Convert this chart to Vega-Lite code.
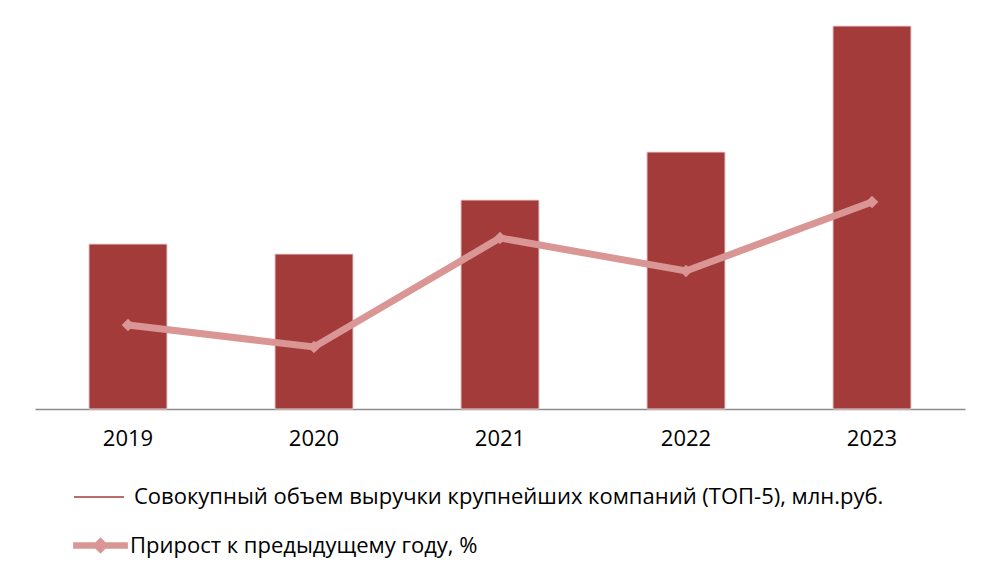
{
  "$schema": "https://vega.github.io/schema/vega-lite/v6.json",
  "width": 930,
  "height": 399,
  "autosize": {"type": "none"},
  "padding": {"left": 35, "top": 10, "right": 35, "bottom": 162},
  "background": "white",
  "config": {
    "view": {"stroke": null},
    "font": "Open Sans"
  },
  "data": {
    "values": [
      {"year": "2019", "revenue": 165, "growth": 84},
      {"year": "2020", "revenue": 155, "growth": 62},
      {"year": "2021", "revenue": 209, "growth": 171},
      {"year": "2022", "revenue": 257, "growth": 138},
      {"year": "2023", "revenue": 383, "growth": 207}
    ]
  },
  "encoding": {
    "x": {
      "field": "year",
      "type": "ordinal",
      "scale": {"paddingInner": 0.58, "paddingOuter": 0.29},
      "axis": {
        "title": null,
        "labelAngle": 0,
        "labelFont": "Open Sans",
        "labelFontSize": 22,
        "labelColor": "#000000",
        "labelPadding": 19,
        "ticks": false,
        "domainColor": "#8c8c8c",
        "domainWidth": 1.5
      }
    }
  },
  "layer": [
    {
      "mark": {"type": "bar", "stroke": "#e8d6d6", "strokeWidth": 1},
      "encoding": {
        "y": {
          "field": "revenue",
          "type": "quantitative",
          "scale": {"domain": [0, 399], "nice": false},
          "axis": null
        },
        "color": {
          "datum": "Совокупный объем выручки крупнейших компаний (ТОП-5), млн.руб.",
          "scale": {"range": ["#a33b3b"]},
          "legend": {
            "title": null,
            "orient": "none",
            "legendX": 38,
            "legendY": 461,
            "symbolType": "stroke",
            "symbolSize": 2500,
            "symbolStrokeWidth": 1.5,
            "symbolStrokeColor": "#a33b3b",
            "labelFont": "Open Sans",
            "labelFontSize": 22,
            "labelColor": "#000000",
            "labelOffset": 9,
            "labelLimit": 900
          }
        }
      }
    },
    {
      "mark": {"type": "line", "strokeWidth": 7},
      "encoding": {
        "y": {
          "field": "growth",
          "type": "quantitative",
          "scale": {"domain": [0, 399], "nice": false},
          "axis": null
        },
        "stroke": {
          "datum": "Прирост к предыдущему году, %",
          "scale": {"range": ["#d99694"]},
          "legend": {
            "title": null,
            "orient": "none",
            "legendX": 38,
            "legendY": 508,
            "symbolType": "M-1,-0.12L1,-0.12L1,0.12L-1,0.12Z M-0.3,0L0,-0.3L0.3,0L0,0.3Z",
            "symbolSize": 3000,
            "symbolFillColor": "#d99694",
            "symbolStrokeColor": "#d99694",
            "symbolStrokeWidth": 0,
            "labelFont": "Open Sans",
            "labelFontSize": 22,
            "labelColor": "#000000",
            "labelOffset": 2,
            "labelLimit": 900
          }
        }
      }
    },
    {
      "mark": {"type": "point", "shape": "diamond", "filled": true, "size": 160, "opacity": 1, "color": "#d99694"},
      "encoding": {
        "y": {
          "field": "growth",
          "type": "quantitative",
          "scale": {"domain": [0, 399], "nice": false},
          "axis": null
        }
      }
    }
  ],
  "resolve": {"scale": {"y": "shared"}}
}
